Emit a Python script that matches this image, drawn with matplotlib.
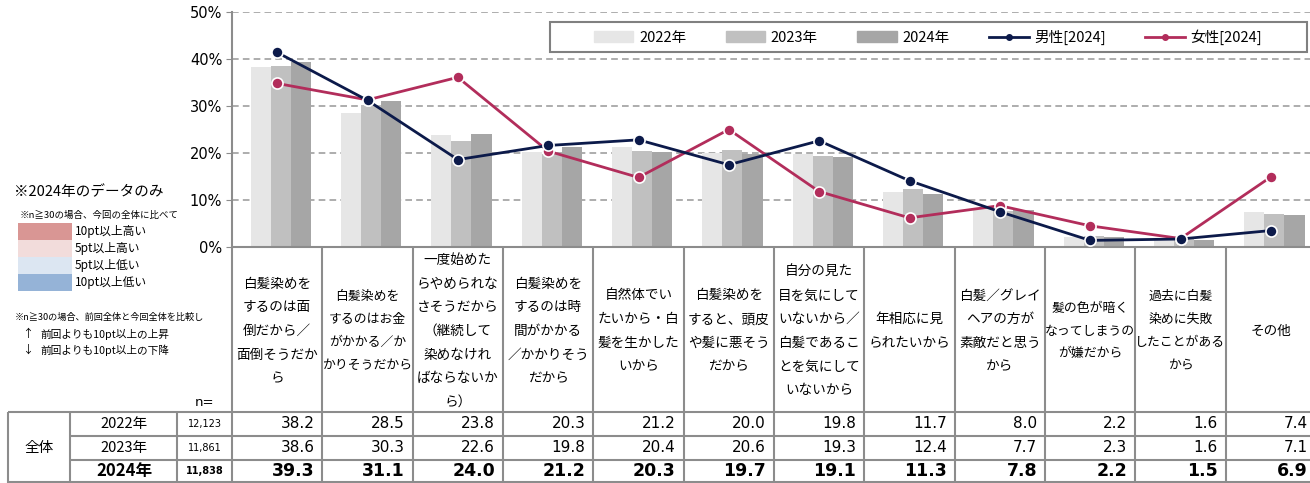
import matplotlib
matplotlib.use("Agg")
import matplotlib.pyplot as plt
from matplotlib.patches import Rectangle, Patch
from matplotlib.lines import Line2D
import numpy as np

plt.rcParams['font.family'] = ['Noto Sans CJK JP', 'DejaVu Sans']

# ---- data ----
categories = [
    "白髪染めを\nするのは面\n倒だから／\n面倒そうだか\nら",
    "白髪染めを\nするのはお金\nがかかる／か\nかりそうだから",
    "一度始めた\nらやめられな\nさそうだから\n（継続して\n染めなけれ\nばならないか\nら）",
    "白髪染めを\nするのは時\n間がかかる\n／かかりそう\nだから",
    "自然体でい\nたいから・白\n髪を生かした\nいから",
    "白髪染めを\nすると、頭皮\nや髪に悪そう\nだから",
    "自分の見た\n目を気にして\nいないから／\n白髪であるこ\nとを気にして\nいないから",
    "年相応に見\nられたいから",
    "白髪／グレイ\nヘアの方が\n素敵だと思う\nから",
    "髪の色が暗く\nなってしまうの\nが嫌だから",
    "過去に白髪\n染めに失敗\nしたことがある\nから",
    "その他",
]
years = ['2022年', '2023年', '2024年']
n_values = ['12,123', '11,861', '11,838']
total_2022 = [38.2, 28.5, 23.8, 20.3, 21.2, 20.0, 19.8, 11.7, 8.0, 2.2, 1.6, 7.4]
total_2023 = [38.6, 30.3, 22.6, 19.8, 20.4, 20.6, 19.3, 12.4, 7.7, 2.3, 1.6, 7.1]
total_2024 = [39.3, 31.1, 24.0, 21.2, 20.3, 19.7, 19.1, 11.3, 7.8, 2.2, 1.5, 6.9]
male_2024 = [41.4, 31.2, 18.6, 21.6, 22.8, 17.5, 22.6, 14.1, 7.5, 1.4, 1.7, 3.5]
female_2024 = [34.8, 31.3, 36.1, 20.4, 14.8, 25.0, 11.8, 6.2, 8.8, 4.5, 1.8, 14.9]
yticks = [0, 10, 20, 30, 40, 50]
key_labels = ['10pt以上高い', '5pt以上高い', '5pt以上低い', '10pt以上低い']

# ---- styles ----
bar_colors = ['#E6E6E6', '#C0C0C0', '#A6A6A6']
key_colors = ['#D99694', '#F2DCDB', '#DCE6F2', '#95B3D7']
male_c = '#0C1A4A'
female_c = '#B22D5B'
line_c = '#8C8C8C'

W, H = 1310, 483
fig = plt.figure(figsize=(W / 100, H / 100), dpi=100)

# pixel layout of the plot area
ax_l, ax_r, ax_t, ax_b = 232, 1316, 12, 247
cw = (ax_r - ax_l) / len(categories)


def col_x(px):
    return -0.5 + (px - ax_l) / cw


# ---- main chart ----
ax = fig.add_axes([ax_l / W, 1 - ax_b / H, (ax_r - ax_l) / W, (ax_b - ax_t) / H])
x = np.arange(len(categories))
bw = 0.222
for k, vals in enumerate([total_2022, total_2023, total_2024]):
    ax.bar(x + (k - 1) * bw + 0.04, vals, width=bw, color=bar_colors[k], zorder=2)
ax.plot(x, male_2024, color=male_c, lw=2, marker='o', ms=8, mfc=male_c, mec='white', mew=1.2, zorder=4)
ax.plot(x, female_2024, color=female_c, lw=2, marker='o', ms=8, mfc=female_c, mec='white', mew=1.2, zorder=3)

ax.set_xlim(-0.5, len(categories) - 0.5)
ax.set_ylim(0, 50)
ax.set_yticks(yticks)
ax.set_yticklabels([f'{t}%' for t in yticks], family='DejaVu Sans', fontsize=10.5)
ax.set_xticks([])
ax.tick_params(axis='y', length=4, color=line_c, pad=3)
for t in yticks[1:]:
    ax.axhline(t, color='#A0A0A0', lw=1.2, ls=(0, (4, 2.5)), zorder=1)
for s in ['top', 'right']:
    ax.spines[s].set_visible(False)
for s in ['left', 'bottom']:
    ax.spines[s].set_color(line_c)
    ax.spines[s].set_linewidth(1.5)

# legend, with its own box so the side margins match
handles = [Patch(color=c) for c in bar_colors]
handles += [Line2D([], [], color=male_c, lw=2, marker='o', ms=4),
            Line2D([], [], color=female_c, lw=2, marker='o', ms=4)]
labels = years + ['男性[2024]', '女性[2024]']
fig.legend(handles, labels, loc='center', ncol=5, bbox_to_anchor=(928 / W, 1 - 37 / H),
           fontsize=10.5, frameon=False, handlelength=2.7, handletextpad=0.4,
           columnspacing=2.7, borderpad=0)
fig.add_artist(Rectangle((550 / W, 1 - 52 / H), 757 / W, 30 / H, transform=fig.transFigure,
                         fill=False, ec='#808080', lw=1.5))

# ---- labels and table ----
tab = fig.add_axes([0, 0, 1, (H - ax_b) / H])
tab.set_xlim(col_x(0), col_x(W))
tab.set_ylim(H, ax_b)
tab.axis('off')

label_bottom = 412
row_edges = [412, 436, 460, 482]
row_y = [424, 448, 471]
edge = len(categories) - 0.5

tab.vlines(x - 0.5, ax_b, H, color=line_c, lw=1.5)
tab.vlines(edge, ax_b, H, color=line_c, lw=1.5)
tab.vlines([col_x(8), col_x(70), col_x(177)], label_bottom, H, color=line_c, lw=1.5)
tab.hlines([row_edges[0], row_edges[3]], col_x(8), edge, color=line_c, lw=1.5)
tab.hlines(row_edges[1:3], col_x(70), edge, color=line_c, lw=1.5)

for i, cat in enumerate(categories):
    longest = max(len(s) for s in cat.split('\n'))
    fs = min(9.8, 90 / (longest * 100 / 72))      # shrink the long lines to fit the cell
    ls = 23 / (0.898 * fs * 100 / 72)             # keep a ~23px line pitch
    tab.text(i, 331, cat, ha='center', va='center', fontsize=fs, linespacing=ls)

tab.text(col_x(205), 403, 'n=', ha='center', va='center', family='DejaVu Sans', fontsize=9.5)
tab.text(col_x(39), row_y[1], '全体', ha='center', va='center', fontsize=10.5)

rows = [total_2022, total_2023, total_2024]
for r, vals in enumerate(rows):
    bold = r == 2
    tab.text(col_x(124), row_y[r], years[r], ha='center', va='center',
             fontsize=12 if bold else 10.5, fontweight='bold' if bold else 'normal')
    tab.text(col_x(205), row_y[r], n_values[r], ha='center', va='center',
             family='DejaVu Sans', fontsize=7, fontweight='bold' if bold else 'normal')
    for i, v in enumerate(vals):
        tab.text(i + 0.5 - 8 / cw, row_y[r], f'{v:.1f}', ha='right', va='center',
                 family='DejaVu Sans', fontsize=12.5 if bold else 11,
                 fontweight='bold' if bold else 'normal')

# ---- left note panel ----
side = fig.add_axes([0, 0, ax_l / W, 1])
side.set_xlim(0, ax_l)
side.set_ylim(H, 0)
side.axis('off')
side.text(14, 192, '※2024年のデータのみ', va='center', fontsize=10.5)
side.text(20, 215, '※n≧30の場合、今回の全体に比べて', va='center', fontsize=6.8)
for k, (lab, c) in enumerate(zip(key_labels, key_colors)):
    y0 = 223 + k * 17
    side.add_patch(Rectangle((18, y0), 54, 17, color=c, lw=0))
    side.text(75, y0 + 8.5, lab, va='center', fontsize=8.5)
side.text(15, 317, '※n≧30の場合、前回全体と今回全体を比較し', va='center', fontsize=6.6)
side.text(22, 334, '↑', va='center', fontsize=8)
side.text(40, 334, '前回よりも10pt以上の上昇', va='center', fontsize=7.7)
side.text(22, 350, '↓', va='center', fontsize=8)
side.text(40, 350, '前回よりも10pt以上の下降', va='center', fontsize=7.7)

fig.savefig('out.png', dpi=100)
